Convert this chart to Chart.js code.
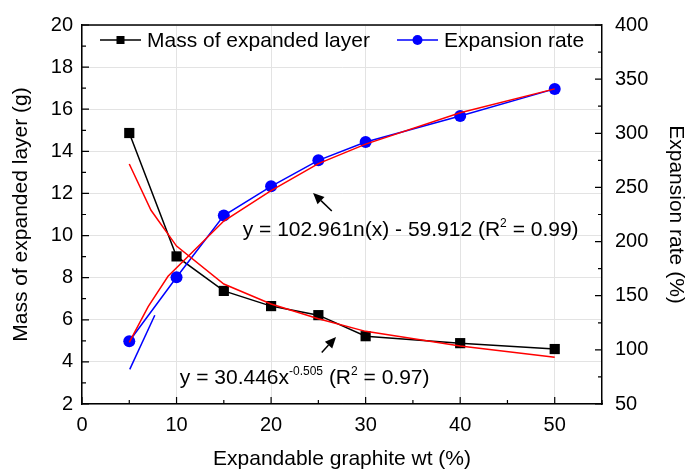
<!DOCTYPE html>
<html>
<head>
<meta charset="utf-8">
<script src="https://cdn.jsdelivr.net/npm/chart.js@4"></script>
<style>
  html, body { margin: 0; padding: 0; background: #fff; }
</style>
</head>
<body>
<canvas id="chart" width="689" height="473"></canvas>
<script>
// Measured points
const wtEG = [5, 10, 15, 20, 25, 30, 40, 50];
const massLayer = [14.87, 9.01, 7.37, 6.65, 6.22, 5.22, 4.89, 4.61];
const expansionRate = [108, 167, 224, 251, 275, 292, 316, 341];

// Fitted curves (red)
const massFitX = [5, 7.3, 10, 15, 20, 25, 30, 40, 50];
const massFitY = [13.4, 11.2, 9.5, 7.7, 6.75, 6.05, 5.45, 4.75, 4.22];
const rateFitX = [5, 7, 9.1, 15, 20, 25, 30, 40, 50];
const rateFitY = [107, 140, 168, 219, 247, 272, 290, 319, 341];

// Short blue segment near the first point
const rateStubX = [5.05, 7.7];
const rateStubY = [82, 132];

const FONT = "'Liberation Sans', Arial, sans-serif";
const BLUE = '#0000ff';
const RED = '#ff0000';
const GRID = '#e3e3e3';

const toPoints = (xs, ys) => xs.map((x, i) => ({ x, y: ys[i] }));

// Frame on top + inward tick marks on three sides
const frameTicks = {
  id: 'frameTicks',
  afterDraw(chart) {
    const { ctx, chartArea: a, scales } = chart;
    ctx.save();
    ctx.strokeStyle = '#000';
    ctx.lineWidth = 1.5;
    ctx.beginPath();
    ctx.moveTo(a.left, a.top);
    ctx.lineTo(a.right, a.top);
    ctx.stroke();

    ctx.lineWidth = 1.2;
    ctx.beginPath();
    for (let v = 0; v <= 55; v += 5) {
      const px = scales.x.getPixelForValue(v);
      const len = v % 10 === 0 ? 7 : 4;
      ctx.moveTo(px, a.bottom);
      ctx.lineTo(px, a.bottom - len);
    }
    for (let v = 2; v <= 20; v += 1) {
      const py = scales.y.getPixelForValue(v);
      const len = v % 2 === 0 ? 7 : 4;
      ctx.moveTo(a.left, py);
      ctx.lineTo(a.left + len, py);
    }
    for (let v = 50; v <= 400; v += 25) {
      const py = scales.y2.getPixelForValue(v);
      const len = v % 50 === 0 ? 7 : 4;
      ctx.moveTo(a.right, py);
      ctx.lineTo(a.right - len, py);
    }
    ctx.stroke();
    ctx.restore();
  }
};

// Legend drawn inside the plot area
const legendEntries = [
  { label: 'Mass of expanded layer', color: '#000', style: 'rect', x: 100 },
  { label: 'Expansion rate', color: BLUE, style: 'circle', x: 397 }
];

const insideLegend = {
  id: 'insideLegend',
  afterDraw(chart) {
    const { ctx } = chart;
    const y = 40;
    ctx.save();
    legendEntries.forEach(e => {
      ctx.strokeStyle = e.color;
      ctx.fillStyle = e.color;
      ctx.lineWidth = 1.5;
      ctx.beginPath();
      ctx.moveTo(e.x, y);
      ctx.lineTo(e.x + 41, y);
      ctx.stroke();
      const cx = e.x + 20.5;
      if (e.style === 'rect') {
        ctx.fillRect(cx - 4, y - 4, 8, 8);
      } else {
        ctx.beginPath();
        ctx.arc(cx, y, 5, 0, Math.PI * 2);
        ctx.fill();
      }
      ctx.fillStyle = '#000';
      ctx.font = '21px ' + FONT;
      ctx.textBaseline = 'middle';
      ctx.fillText(e.label, e.x + 47, y + 1);
    });
    ctx.restore();
  }
};

// Fit equations and arrows, placed in data units of x / left y
const fitNotes = [
  { x: 17.0, y: 9.96, parts: [['y = 102.961n(x) - 59.912 (R', 0], ['2', 1], [' = 0.99)', 0]] },
  { x: 10.35, y: 2.94, parts: [['y = 30.446x', 0], ['-0.505', 1], [' (R', 0], ['2', 1], [' = 0.97)', 0]] }
];
const fitArrows = [
  { from: [26.42, 11.17], to: [24.44, 12.02] },
  { from: [25.36, 4.45], to: [26.87, 5.18] }
];

const equationLabels = {
  id: 'equationLabels',
  afterDatasetsDraw(chart) {
    const { ctx, scales: { x, y } } = chart;
    ctx.save();
    ctx.fillStyle = '#000';
    ctx.textBaseline = 'alphabetic';
    fitNotes.forEach(n => {
      let px = x.getPixelForValue(n.x);
      const py = y.getPixelForValue(n.y);
      n.parts.forEach(([txt, sup]) => {
        ctx.font = (sup ? '12px ' : '21px ') + FONT;
        ctx.fillText(txt, px, sup ? py - 9 : py);
        px += ctx.measureText(txt).width;
      });
    });

    ctx.strokeStyle = '#000';
    ctx.lineWidth = 1.5;
    fitArrows.forEach(a => {
      const x0 = x.getPixelForValue(a.from[0]), y0 = y.getPixelForValue(a.from[1]);
      const x1 = x.getPixelForValue(a.to[0]), y1 = y.getPixelForValue(a.to[1]);
      const ang = Math.atan2(y1 - y0, x1 - x0);
      const head = 11, half = 5;
      const bx = x1 - head * Math.cos(ang), by = y1 - head * Math.sin(ang);
      ctx.beginPath();
      ctx.moveTo(x0, y0);
      ctx.lineTo(bx, by);
      ctx.stroke();
      ctx.beginPath();
      ctx.moveTo(x1, y1);
      ctx.lineTo(bx + half * Math.sin(ang), by - half * Math.cos(ang));
      ctx.lineTo(bx - half * Math.sin(ang), by + half * Math.cos(ang));
      ctx.closePath();
      ctx.fill();
    });
    ctx.restore();
  }
};

const tickFont = { family: FONT, size: 20 };
const titleFont = { family: FONT, size: 21 };

new Chart(document.getElementById('chart'), {
  type: 'line',
  data: {
    datasets: [
      {
        label: 'Mass fit',
        data: toPoints(massFitX, massFitY),
        yAxisID: 'y',
        borderColor: RED,
        borderWidth: 1.5,
        pointRadius: 0,
        order: 0
      },
      {
        label: 'Rate fit',
        data: toPoints(rateFitX, rateFitY),
        yAxisID: 'y2',
        borderColor: RED,
        borderWidth: 1.5,
        pointRadius: 0,
        order: 0
      },
      {
        label: 'Expansion rate',
        data: toPoints(wtEG, expansionRate),
        yAxisID: 'y2',
        borderColor: BLUE,
        backgroundColor: BLUE,
        borderWidth: 1.5,
        pointStyle: 'circle',
        pointRadius: 6,
        pointBorderWidth: 0,
        order: 1
      },
      {
        label: 'Mass of expanded layer',
        data: toPoints(wtEG, massLayer),
        yAxisID: 'y',
        borderColor: '#000',
        backgroundColor: '#000',
        borderWidth: 1.5,
        pointStyle: 'rect',
        pointRadius: 7.2,
        pointBorderWidth: 0,
        order: 2
      },
      {
        label: 'stub',
        data: toPoints(rateStubX, rateStubY),
        yAxisID: 'y2',
        borderColor: BLUE,
        borderWidth: 1.5,
        pointRadius: 0,
        order: 3
      }
    ]
  },
  options: {
    responsive: false,
    animation: false,
    layout: { padding: { top: 19 } },
    plugins: {
      legend: { display: false },
      tooltip: { enabled: false }
    },
    scales: {
      x: {
        type: 'linear',
        min: 0,
        max: 55,
        ticks: { stepSize: 10, includeBounds: false, padding: 9, color: '#000', font: tickFont },
        grid: { color: GRID, lineWidth: 1, drawTicks: false },
        border: { color: '#000', width: 1.5 },
        title: { display: true, text: 'Expandable graphite wt (%)', color: '#000', font: titleFont, padding: { bottom: 1 } },
        afterFit: s => { s.height = 69; }
      },
      y: {
        position: 'left',
        min: 2,
        max: 20,
        ticks: { stepSize: 2, padding: 9, color: '#000', font: tickFont },
        grid: { color: GRID, lineWidth: 1, drawTicks: false },
        border: { color: '#000', width: 1.5 },
        title: { display: true, text: 'Mass of expanded layer (g)', color: '#000', font: titleFont, padding: { top: 9 } },
        afterFit: s => { s.width = 82; }
      },
      y2: {
        position: 'right',
        min: 50,
        max: 400,
        ticks: { stepSize: 50, padding: 13, color: '#000', font: tickFont },
        grid: { drawOnChartArea: false, drawTicks: false },
        border: { color: '#000', width: 1.5 },
        title: { display: true, text: 'Expansion rate (%)', color: '#000', font: titleFont, padding: { top: 1 } },
        afterFit: s => { s.width = 87; }
      }
    }
  },
  plugins: [frameTicks, insideLegend, equationLabels]
});
</script>
</body>
</html>
